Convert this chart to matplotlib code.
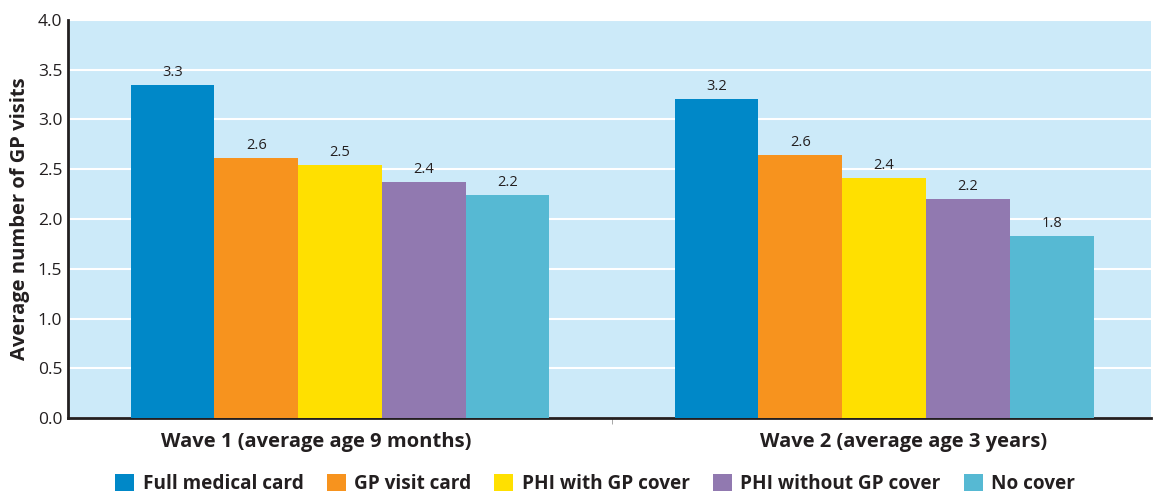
import matplotlib.pyplot as plt
import numpy as np
from matplotlib.patches import Patch

plt.rcParams['font.family'] = ['Open Sans', 'DejaVu Sans']

waves = ['Wave 1 (average age 9 months)', 'Wave 2 (average age 3 years)']
series = ['Full medical card', 'GP visit card', 'PHI with GP cover',
          'PHI without GP cover', 'No cover']
values = [
    [3.35, 3.21],
    [2.61, 2.64],
    [2.54, 2.41],
    [2.37, 2.20],
    [2.24, 1.83],
]
labels = [
    ['3.3', '3.2'],
    ['2.6', '2.6'],
    ['2.5', '2.4'],
    ['2.4', '2.2'],
    ['2.2', '1.8'],
]
colors = ['#0088c8', '#f7931e', '#ffe000', '#9179b0', '#56b9d3']

BG = '#cceaf9'
TXT = '#231f20'

fig = plt.figure(figsize=(11.58, 4.96), dpi=100)
ax = fig.add_axes([0.0587, 0.157, 0.935, 0.803])
ax.set_facecolor(BG)

x = np.arange(len(waves))
w = 0.154
for i, (name, vals, lbls, c) in enumerate(zip(series, values, labels, colors)):
    pos = x + (i - 2) * w
    ax.bar(pos, vals, w, color=c, zorder=3, linewidth=0)
    for px, v, t in zip(pos, vals, lbls):
        ax.text(px, v + 0.05, t, ha='center', va='bottom', fontsize=10.5,
                color=TXT, zorder=4)

ax.set_xlim(-0.5, 1.49)
ax.set_ylim(0, 4.0)
ax.set_yticks(np.arange(0, 4.01, 0.5))
ax.set_yticklabels([f'{t:.1f}' for t in np.arange(0, 4.01, 0.5)])
ax.grid(axis='y', color='white', linewidth=1.5, zorder=1)
ax.tick_params(axis='y', length=0, labelsize=12.5, labelcolor=TXT, pad=4)
# category labels sit a little off the group centres in the original
ax.set_xticks(x + np.array([-0.043, 0.035]))
ax.set_xticklabels(waves, fontsize=14.5, fontweight='bold', color=TXT)
ax.set_xticks([0.5], minor=True)
ax.tick_params(axis='x', which='major', length=0, pad=10)
ax.tick_params(axis='x', which='minor', length=4, color='#999999')
ax.set_ylabel('Average number of GP visits', fontsize=14.5, fontweight='bold',
              color=TXT, labelpad=6)

for s in ['top', 'right']:
    ax.spines[s].set_visible(False)
ax.spines['left'].set_color(TXT)
ax.spines['left'].set_linewidth(2)
ax.spines['bottom'].set_color(TXT)
ax.spines['bottom'].set_linewidth(2)

handles = [Patch(facecolor=c, label=n) for n, c in zip(series, colors)]
leg = fig.legend(handles=handles, loc='center', bbox_to_anchor=(0.514, 0.024),
                 ncol=5, frameon=False, handlelength=1.0, handleheight=1.0,
                 handletextpad=0.45, columnspacing=1.2,
                 prop={'size': 13.7, 'weight': 'bold'})
for t in leg.get_texts():
    t.set_color(TXT)

fig.savefig('out.png', dpi=100)
